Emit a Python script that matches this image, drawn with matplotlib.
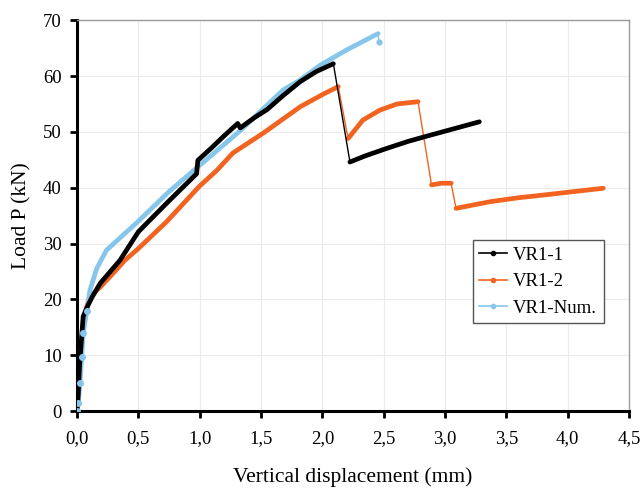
import matplotlib
matplotlib.use("Agg")
import matplotlib.pyplot as plt
from matplotlib.lines import Line2D
from matplotlib.ticker import FuncFormatter

# VR1-1 (test 1)
vr11_x = [0.0, 0.01, 0.02, 0.04, 0.05, 0.08, 0.12, 0.19, 0.35, 0.5, 0.73, 0.975,
          0.985, 1.1, 1.2, 1.31, 1.33, 1.45, 1.55, 1.68, 1.82, 1.95, 2.05, 2.09,
          2.225, 2.35, 2.52, 2.7, 2.88, 3.08, 3.28]
vr11_y = [0.0, 3.0, 8.0, 14.0, 16.9, 18.5, 20.3, 22.9, 27.0, 32.1, 37.2, 42.5,
          44.9, 47.2, 49.3, 51.5, 50.7, 52.6, 54.0, 56.5, 59.0, 60.8, 61.8, 62.2,
          44.6, 45.7, 47.0, 48.3, 49.4, 50.6, 51.8]

# VR1-2 (test 2)
vr12_x = [0.0, 0.01, 0.02, 0.03, 0.04, 0.06, 0.09, 0.13, 0.19, 0.3, 0.39, 0.5,
          0.73, 1.0, 1.14, 1.27, 1.52, 1.82, 2.02, 2.13,
          2.21, 2.33, 2.47, 2.61, 2.78,
          2.89, 2.97, 3.05,
          3.09, 3.37, 3.6, 3.85, 4.05, 4.29]
vr12_y = [0.0, 2.5, 6.0, 10.0, 13.5, 17.0, 19.5, 21.0, 22.2, 24.8, 27.0, 29.1,
          33.9, 40.3, 43.1, 46.2, 49.8, 54.5, 56.9, 58.1,
          48.8, 52.1, 53.9, 55.0, 55.4,
          40.5, 40.8, 40.8,
          36.3, 37.5, 38.2, 38.8, 39.3, 39.9]

# VR1-Num. (numerical model)
num_x = [0.0, 0.01, 0.024, 0.038, 0.05, 0.08, 0.106, 0.16, 0.24, 0.5, 0.75, 1.0,
         1.33, 1.68, 1.82, 1.98, 2.2, 2.455, 2.46]
num_y = [0.0, 1.5, 5.0, 9.7, 13.9, 18.0, 21.7, 25.5, 28.8, 34.0, 39.3, 44.0,
         50.2, 57.5, 59.3, 61.9, 64.7, 67.6, 66.1]

labels = ["VR1-1", "VR1-2", "VR1-Num."]
x_ticks = [0.0, 0.5, 1.0, 1.5, 2.0, 2.5, 3.0, 3.5, 4.0, 4.5]
y_ticks = [0, 10, 20, 30, 40, 50, 60, 70]

c_black = "#000000"
c_orange = "#f2631f"
c_blue = "#85c6ea"

plt.rcParams["font.family"] = ["Liberation Serif", "DejaVu Serif"]

fig = plt.figure(figsize=(6.43, 4.90), dpi=100)
ax = fig.add_axes([0.1198, 0.1612, 0.8584, 0.7976])


def draw_series(xs, ys, color, breaks, z):
    # thin line through every point (shows the sudden drops), thick bands for the dense parts
    ax.plot(xs, ys, color=color, lw=1.0, zorder=z)
    start = 0
    for b in breaks + [len(xs)]:
        ax.plot(xs[start:b], ys[start:b], color=color, lw=3.4,
                solid_capstyle="round", solid_joinstyle="round", zorder=z)
        start = b


draw_series(vr12_x, vr12_y, c_orange, [20, 25, 28], 3)
draw_series(num_x, num_y, c_blue, [18], 4)
ax.plot(num_x[-1:], num_y[-1:], "o", color=c_blue, ms=3.5, zorder=4)
# the first numerical steps show up as separate dots
ax.plot(num_x[:6], num_y[:6], "o", color=c_blue, ms=4, zorder=6)
draw_series(vr11_x, vr11_y, c_black, [24], 5)

ax.set_xlim(0, 4.5)
ax.set_ylim(0, 70)
ax.set_xticks(x_ticks)
ax.set_yticks(y_ticks)
ax.xaxis.set_major_formatter(FuncFormatter(lambda v, p: f"{v:.1f}".replace(".", ",")))
ax.yaxis.set_major_formatter(FuncFormatter(lambda v, p: f"{v:.0f}"))
ax.tick_params(direction="out", length=5, width=2, labelsize=13.5)
ax.tick_params(axis="x", pad=9)
ax.tick_params(axis="y", pad=6)

ax.grid(True, color="#ebebeb", lw=0.8)
ax.set_axisbelow(True)

for side in ["left", "bottom"]:
    ax.spines[side].set_linewidth(2.2)
    ax.spines[side].set_color("black")
for side in ["top", "right"]:
    ax.spines[side].set_linewidth(1.0)
    ax.spines[side].set_color("#9a9a9a")

ax.set_xlabel("Vertical displacement (mm)", fontsize=15.5, labelpad=14)
ax.set_ylabel("Load P (kN)", fontsize=15.5, labelpad=8)

handles = [Line2D([], [], color=c, lw=1.2, marker="o", ms=3)
           for c in [c_black, c_orange, c_blue]]
leg = ax.legend(handles, labels, loc="upper left", bbox_to_anchor=(0.717, 0.437),
                fontsize=13.5, handlelength=1.5, handletextpad=0.3, labelspacing=0.5,
                borderpad=0.35, fancybox=False, framealpha=1, borderaxespad=0)
leg.get_frame().set_edgecolor("#555555")
leg.get_frame().set_linewidth(1.0)

fig.savefig("out.png", dpi=100)
